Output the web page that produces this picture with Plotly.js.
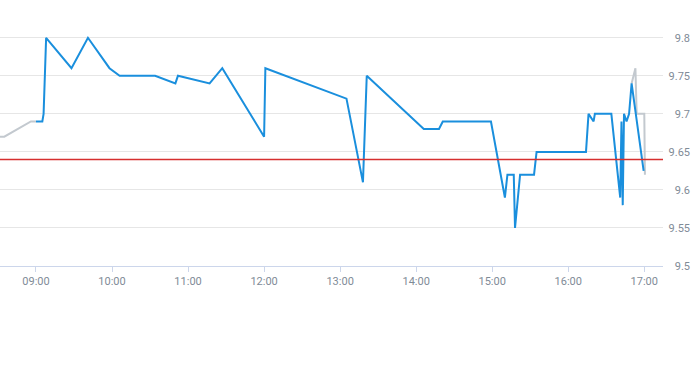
<!DOCTYPE html>
<html>
<head>
<meta charset="utf-8">
<script src="https://cdn.plot.ly/plotly-3.0.1.min.js"></script>
<style>html,body{margin:0;padding:0;background:#fff;}#chart{width:693px;height:365px;}</style>
</head>
<body>
<div id="chart"></div>
<script>
var DAY = '2024-01-02 ';
var blueTimes = ['09:00','09:05','09:06','09:08','09:28','09:41','09:58','10:06','10:34','10:50','10:52','11:17','11:27','12:00','12:01','13:05','13:18','13:21','14:06','14:18','14:21','14:59','15:10','15:12','15:17','15:18','15:22','15:33','15:35','16:14','16:16','16:20','16:21','16:34','16:41','16:42','16:43','16:44','16:46','16:48','16:50','16:59:30'];
var blueValues = [9.69,9.69,9.70,9.80,9.76,9.80,9.76,9.75,9.75,9.74,9.75,9.74,9.76,9.67,9.76,9.72,9.61,9.75,9.68,9.68,9.69,9.69,9.59,9.62,9.62,9.55,9.62,9.62,9.65,9.65,9.70,9.69,9.70,9.70,9.59,9.69,9.58,9.70,9.69,9.70,9.74,9.625];
var greyStartTimes = ['08:30','08:35','08:56','09:00'];
var greyStartValues = [9.67,9.67,9.69,9.69];
var greyEndTimes = ['16:50','16:53','16:54','17:00','17:00:30'];
var greyEndValues = [9.74,9.76,9.70,9.70,9.62];
var prevClose = 9.64;
var yTickVals = [9.5,9.55,9.6,9.65,9.7,9.75,9.8];
var yTickText = ['9.5','9.55','9.6','9.65','9.7','9.75','9.8'];
var xTickVals = ['09:00','10:00','11:00','12:00','13:00','14:00','15:00','16:00','17:00'];
var xRange = ['08:31:36','17:14:46'];
var yRange = [9.5, 9.8365];

function t(arr){ return arr.map(function(s){ return DAY + s; }); }

var labelFont = {family: 'Roboto, "Liberation Sans", sans-serif', size: 11, color: '#7f8b97'};

var traces = [
  {x: t(greyStartTimes), y: greyStartValues, type: 'scatter', mode: 'lines', line: {color: '#c3c9cf', width: 2}, hoverinfo: 'skip'},
  {x: t(greyEndTimes), y: greyEndValues, type: 'scatter', mode: 'lines', line: {color: '#c3c9cf', width: 2}, hoverinfo: 'skip'},
  {x: t(blueTimes), y: blueValues, type: 'scatter', mode: 'lines', line: {color: '#1a8fdd', width: 2}, hoverinfo: 'skip'},
  {x: t(xRange), y: [prevClose, prevClose], type: 'scatter', mode: 'lines', line: {color: '#d62f2f', width: 1.3}, hoverinfo: 'skip'},
  {x: [], y: [], yaxis: 'y2', type: 'scatter', mode: 'lines', hoverinfo: 'skip'}
];

var layout = {
  width: 693, height: 365,
  margin: {l: 0, r: 0, t: 10, b: 99, pad: 0},
  paper_bgcolor: '#ffffff', plot_bgcolor: '#ffffff',
  showlegend: false,
  font: labelFont,
  xaxis: {
    type: 'date', domain: [0, 663/693], range: t(xRange),
    tickvals: t(xTickVals), tickformat: '%H:%M',
    showgrid: false, zeroline: false,
    showline: true, linecolor: '#ccd6eb', linewidth: 1,
    ticks: 'outside', ticklen: 5, tickcolor: '#ccd6eb', tickwidth: 1,
    tickfont: labelFont, fixedrange: true
  },
  yaxis: {
    range: yRange, side: 'right', tickvals: yTickVals, showticklabels: false,
    showgrid: true, gridcolor: '#e6e6e6', gridwidth: 1, zeroline: false,
    showline: false, ticks: '', fixedrange: true
  },
  yaxis2: {
    range: yRange, overlaying: 'y', anchor: 'free', position: 1, side: 'right',
    tickvals: yTickVals, ticktext: yTickText, ticklabelposition: 'inside',
    ticklabeloverflow: 'allow', showgrid: false, zeroline: false, showline: false,
    ticks: '', tickfont: labelFont, fixedrange: true
  }
};

Plotly.newPlot('chart', traces, layout, {displayModeBar: false, staticPlot: true});
</script>
</body>
</html>
